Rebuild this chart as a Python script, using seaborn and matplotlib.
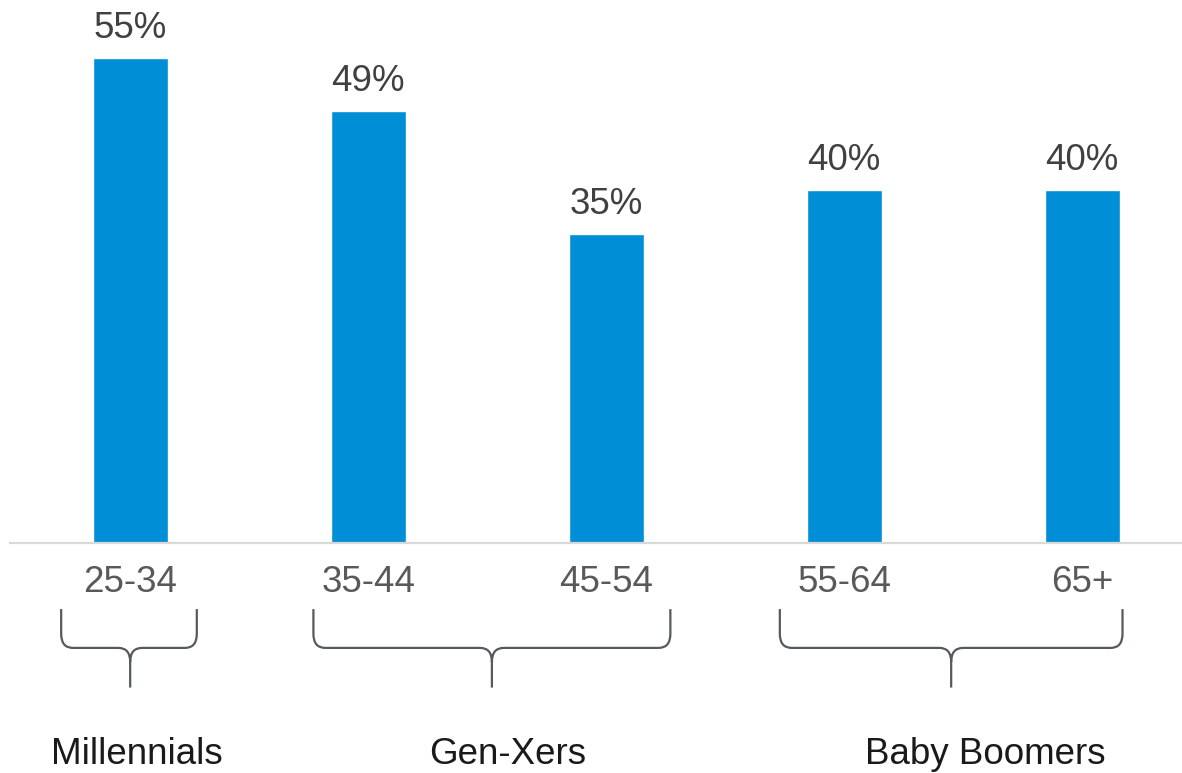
import numpy as np
import pandas as pd
import matplotlib.pyplot as plt
import seaborn as sns
from matplotlib.path import Path
from matplotlib.patches import PathPatch

# data
age_groups = ["25-34", "35-44", "45-54", "55-64", "65+"]
shares = [55, 49, 35, 40, 40]
generations = ["Millennials", "Gen-Xers", "Baby Boomers"]
gen_first = [0, 1, 3]
gen_last = [0, 2, 4]

# brace extents relative to first / last bar, plus where the stem sits
brace_left = [-0.29, -0.23, -0.27]
brace_right = [0.28, 0.27, 0.17]
brace_stem = [0.0, 0.52, 0.45]
label_x = [137, 508, 985]  # px, group label centres

sns.set_theme(style="white")
plt.rcParams["font.family"] = ["Liberation Sans", "DejaVu Sans"]

df = pd.DataFrame({"age": age_groups, "share": shares})

fig = plt.figure(figsize=(11.82, 7.73), dpi=100)
ax = fig.add_axes([10 / 1182, 230 / 773, 1172 / 1182, 543 / 773])

sns.barplot(data=df, x="age", y="share", color="#008ED6", saturation=1,
            width=0.315, ax=ax)
ax.bar_label(ax.containers[0], labels=[f"{v}%" for v in shares],
             padding=9, fontsize=26.5, color="#404040")

ax.set_xlim(-0.505, 4.42)
ax.set_ylim(0, 61.6)
ax.set_xlabel("")
ax.set_ylabel("")
ax.set_yticks([])
ax.tick_params(axis="x", length=0, pad=16, labelsize=26.5, labelcolor="#595959")
for side in ["top", "right", "left"]:
    ax.spines[side].set_visible(False)
ax.spines["bottom"].set_color("#d9d9d9")
ax.spines["bottom"].set_linewidth(1.6)

# curly braces under the age groups
y_top, y_mid, y_bot = -7.5, -11.9, -16.4
rx, ry = 0.05, 1.6
for i in range(len(generations)):
    x0 = gen_first[i] + brace_left[i]
    x1 = gen_last[i] + brace_right[i]
    xc = gen_first[i] + brace_stem[i]
    verts = [
        (x0, y_top), (x0, y_mid + ry), (x0, y_mid), (x0 + rx, y_mid),
        (xc - rx, y_mid), (xc, y_mid), (xc, y_mid - ry), (xc, y_bot),
        (xc, y_mid - ry), (xc, y_mid), (xc + rx, y_mid),
        (x1 - rx, y_mid), (x1, y_mid), (x1, y_mid + ry), (x1, y_top),
    ]
    codes = [Path.MOVETO, Path.LINETO, Path.CURVE3, Path.CURVE3,
             Path.LINETO, Path.CURVE3, Path.CURVE3, Path.LINETO,
             Path.MOVETO, Path.CURVE3, Path.CURVE3,
             Path.LINETO, Path.CURVE3, Path.CURVE3, Path.LINETO]
    patch = PathPatch(Path(verts, codes), facecolor="none", edgecolor="#555a60",
                      lw=1.6, clip_on=False)
    ax.add_patch(patch)
    fig.text(label_x[i] / 1182, 9 / 773, generations[i], ha="center",
             va="baseline", fontsize=26.5, color="#1a1a1a")

fig.savefig("out.png", dpi=100)
